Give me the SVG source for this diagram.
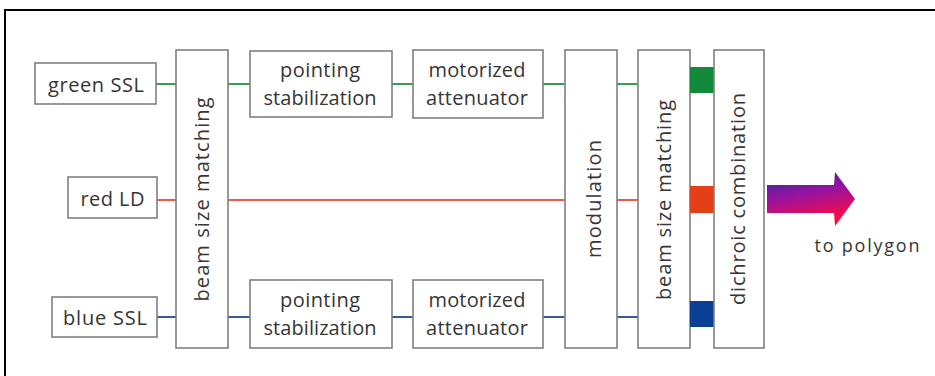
<svg xmlns="http://www.w3.org/2000/svg" width="935" height="376" viewBox="0 0 935 376">
<style>
.box{fill:#fff;stroke:#808080;stroke-width:1.6}
.t{font-family:"Open Sans","Noto Sans",sans-serif;font-size:20px;fill:#363636;text-anchor:middle}
.g{stroke:#3f9a55;stroke-width:2;fill:none}
.r{stroke:#ee5a45;stroke-width:2.2;fill:none}
.b{stroke:#3a58a0;stroke-width:2;fill:none}
</style>
<defs>
<linearGradient id="arr" gradientUnits="userSpaceOnUse" x1="790" y1="172" x2="800" y2="226">
<stop offset="0" stop-color="#3a2a98"/>
<stop offset="0.45" stop-color="#9a12a0"/>
<stop offset="1" stop-color="#ff0a40"/>
</linearGradient>
</defs>
<rect width="935" height="376" fill="#fff"/>
<path d="M5,376 V10 H935" fill="none" stroke="#000" stroke-width="2"/>

<g id="connectors">
<path class="g" d="M156,84 H176 M228,84 H250 M392,84 H413 M543,84 H565 M617,84 H638"/>
<path class="r" d="M157,200 H176 M228,200 H565 M617,200 H638"/>
<path class="b" d="M157,317 H176 M228,317 H250 M392,317 H413 M543,317 H565 M617,317 H638"/>
</g>

<g id="green-ssl"><rect class="box" x="35" y="63" width="121" height="41"/><text class="t" x="96" y="92" textLength="96" lengthAdjust="spacing">green SSL</text></g>
<g id="red-ld"><rect class="box" x="68" y="177" width="89" height="41"/><text class="t" x="112.5" y="206" textLength="64" lengthAdjust="spacing">red LD</text></g>
<g id="blue-ssl"><rect class="box" x="52" y="297" width="105" height="40"/><text class="t" x="105" y="325" textLength="84" lengthAdjust="spacing">blue SSL</text></g>

<g id="beam-size-matching-1"><rect class="box" x="176" y="50" width="52" height="298"/><text class="t" transform="translate(209,199.5) rotate(-90)" x="0" y="0" textLength="204" lengthAdjust="spacing">beam size matching</text></g>

<g id="pointing-top"><rect class="box" x="250" y="51" width="142" height="66"/><text class="t" x="320" y="77" textLength="80" lengthAdjust="spacing">pointing</text><text class="t" x="320" y="105" textLength="113" lengthAdjust="spacing">stabilization</text></g>
<g id="attenuator-top"><rect class="box" x="413" y="50" width="130" height="68"/><text class="t" x="477" y="77" textLength="97" lengthAdjust="spacing">motorized</text><text class="t" x="477" y="105" textLength="102" lengthAdjust="spacing">attenuator</text></g>

<g id="pointing-bottom"><rect class="box" x="250" y="280" width="142" height="68"/><text class="t" x="320" y="307" textLength="80" lengthAdjust="spacing">pointing</text><text class="t" x="320" y="335" textLength="113" lengthAdjust="spacing">stabilization</text></g>
<g id="attenuator-bottom"><rect class="box" x="413" y="280" width="130" height="68"/><text class="t" x="477" y="307" textLength="97" lengthAdjust="spacing">motorized</text><text class="t" x="477" y="335" textLength="102" lengthAdjust="spacing">attenuator</text></g>

<g id="modulation"><rect class="box" x="565" y="50" width="52" height="298"/><text class="t" transform="translate(601,199) rotate(-90)" textLength="118" lengthAdjust="spacing">modulation</text></g>
<g id="beam-size-matching-2"><rect class="box" x="638" y="50" width="52" height="298"/><text class="t" transform="translate(671,200) rotate(-90)" textLength="200" lengthAdjust="spacing">beam size matching</text></g>

<g id="mirrors">
<rect x="690" y="67" width="24" height="26" fill="#138a3a"/>
<rect x="690" y="186" width="24" height="27" fill="#e3401a"/>
<rect x="690" y="301" width="24" height="26" fill="#0b3f96"/>
</g>

<g id="dichroic-combination"><rect class="box" x="714" y="50" width="50" height="298"/><text class="t" transform="translate(745,199) rotate(-90)" textLength="212" lengthAdjust="spacing">dichroic combination</text></g>

<g id="output-arrow">
<path d="M767,185 H834 L835,172 L855,199 L835,226 L834,213 H767 Z" fill="url(#arr)"/>
<text class="t" x="867" y="252" textLength="105" lengthAdjust="spacing" style="font-size:18px">to polygon</text>
</g>
</svg>
